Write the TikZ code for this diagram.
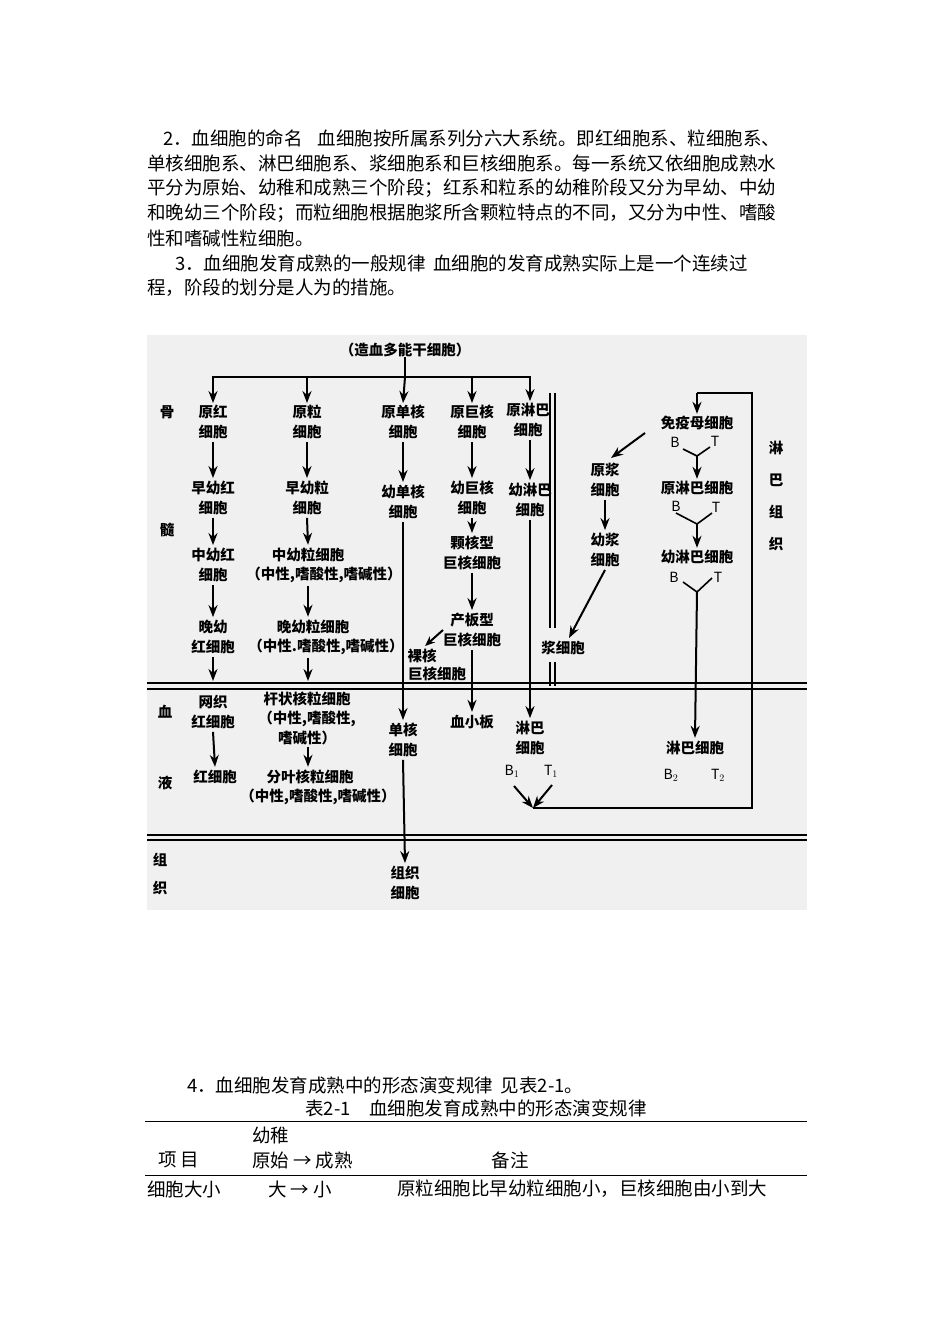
\documentclass[tikz,border=0pt]{standalone}
\usepackage{fontspec}
\setmainfont{Noto Sans CJK SC}
\usetikzlibrary{arrows.meta}
\begin{document}
\begin{tikzpicture}[x=1pt,y=-1pt,
  body/.style={anchor=west,inner sep=0,font=\fontsize{18.5}{22}\selectfont},
  lbl/.style={align=center,inner sep=0,font=\fontsize{14.5}{19.5}\selectfont\bfseries},
  bt/.style={inner sep=0,font=\fontsize{14}{14}\selectfont},
  ln/.style={line width=2pt},
  ar/.style={line width=2pt,-{Stealth[length=12pt,width=9pt]}}]
\useasboundingbox (0,0) rectangle (950,1344);
\fill[white] (0,0) rectangle (950,1344);
\coordinate (xg) at (308,0);
\coordinate (xl) at (530,0);
% page text
\node[body] (t1) at (163,138) {2．血细胞的命名\hspace{0.8em}血细胞按所属系列分六大系统。即红细胞系、粒细胞系、};
\node[body] (t2) at (147,163) {单核细胞系、淋巴细胞系、浆细胞系和巨核细胞系。每一系统又依细胞成熟水};
\node[body] (t3) at (147,188) {平分为原始、幼稚和成熟三个阶段；红系和粒系的幼稚阶段又分为早幼、中幼};
\node[body] (t4) at (147,213) {和晚幼三个阶段；而粒细胞根据胞浆所含颗粒特点的不同，又分为中性、嗜酸};
\node[body] (t5) at (147,238) {性和嗜碱性粒细胞。};
\node[body] (t6) at (175,263) {3．血细胞发育成熟的一般规律\hspace{0.4em}血细胞的发育成熟实际上是一个连续过};
\node[body] (t7) at (147,288) {程，阶段的划分是人为的措施。};
% diagram background
\fill[black!6] (147,335) rectangle (807,910);
% horizontal double lines
\draw[line width=1.8pt] (147,683) -- (807,683) (147,689) -- (807,689);
\draw[line width=1.8pt] (147,835) -- (807,835) (147,840) -- (807,840);
% side labels
\node[lbl] (gu) at (167,412) {骨};
\node[lbl] (sui) at (167,530) {髓};
\node[lbl] (xue) at (165,712) {血};
\node[lbl] (ye) at (165,783) {液};
\node[lbl] (zu) at (160,860) {组};
\node[lbl] (zh) at (160,888) {织};
\node[lbl] (lb1) at (776,448) {淋};
\node[lbl] (lb2) at (776,480) {巴};
\node[lbl] (lb3) at (776,512) {组};
\node[lbl] (lb4) at (776,544) {织};
% title
\node[lbl] (stem) at (405,350) {（造血多能干细胞）};
\coordinate (bar) at (405,377);
\draw[ln] (stem) -- (bar);
\draw[ln] (212,377) -- (531,377);
% row 1
\node[lbl] (r1) at (213,422) {原红\\细胞};
\node[lbl] (g1) at (307,422) {原粒\\细胞};
\node[lbl] (m1) at (403,422) {原单核\\细胞};
\node[lbl] (k1) at (472,422) {原巨核\\细胞};
\node[lbl] (l1) at (528,420) {原淋巴\\细胞};
\draw[ar] (213,377) -- ([yshift=2pt]r1.north);
\draw[ar] (307,377) -- ([yshift=2pt]g1.north);
\draw[ar] (bar) -- ([yshift=2pt]m1.north);
\draw[ar] (472,377) -- ([yshift=2pt]k1.north);
\draw[ar] (530,377) -- ([yshift=2pt]l1.north -| xl);
% row 2
\node[lbl] (r2) at (213,498) {早幼红\\细胞};
\node[lbl] (g2) at (307,498) {早幼粒\\细胞};
\node[lbl] (m2) at (403,502) {幼单核\\细胞};
\node[lbl] (k2) at (472,498) {幼巨核\\细胞};
\node[lbl] (l2) at (530,500) {幼淋巴\\细胞};
\foreach \a/\b in {r1/r2,g1/g2,m1/m2,k1/k2}{\draw[ar] ([yshift=-3pt]\a.south) -- ([yshift=3pt]\b.north);}
\draw[ar] ([yshift=-3pt]l1.south -| xl) -- ([yshift=3pt]l2.north);
% row 3
\node[lbl] (r3) at (213,565) {中幼红\\细胞};
\node[lbl] (g3a) at (308,555) {中幼粒细胞};
\node[lbl] (g3b) at (324,575) {（中性,嗜酸性,嗜碱性）};
\node[lbl] (k3) at (472,553) {颗核型\\巨核细胞};
\draw[ar] ([yshift=-3pt]r2.south) -- ([yshift=3pt]r3.north);
\draw[ar] ([yshift=-3pt]g2.south) -- ([yshift=3pt]g3a.north);
\draw[ar] ([yshift=-3pt]k2.south) -- ([yshift=3pt]k3.north);
% row 4
\node[lbl] (r4) at (213,637) {晚幼\\红细胞};
\node[lbl] (g4a) at (313,627) {晚幼粒细胞};
\node[lbl] (g4b) at (326,647) {（中性.嗜酸性,嗜碱性）};
\node[lbl] (k4) at (472,630) {产板型\\巨核细胞};
\node[lbl] (nk1) at (422,656) {裸核};
\node[lbl] (nk2) at (437,674) {巨核细胞};
\draw[ar] ([yshift=-3pt]r3.south) -- ([yshift=3pt]r4.north);
\draw[ar] ([yshift=-3pt]g3b.south -| xg) -- ([yshift=3pt]g4a.north -| xg);
\draw[ar] ([yshift=-3pt]k3.south) -- ([yshift=3pt]k4.north);
\draw[ln,-{Stealth[length=10pt,width=8pt]}] (443,630) -- (425,646);
\coordinate (rd) at (213,681);
\coordinate (gd) at (308,681);
\draw[ar] ([yshift=-3pt]r4.south) -- (rd);
\draw[ar] ([yshift=-3pt]g4b.south -| xg) -- (gd);
% plasma double vertical line
\draw[line width=1.6pt] (550,393) -- (550,628) (555,393) -- (555,628);
\draw[line width=1.6pt] (550,662) -- (550,686) (555,662) -- (555,686);
\node[lbl] (p4) at (563,648) {浆细胞};
% lymph tissue
\node[lbl] (im) at (697,423) {免疫母细胞};
\node[bt] (imB) at (675,442) {B};
\node[bt] (imT) at (715,441) {T};
\node[lbl] (pl) at (697,488) {原淋巴细胞};
\node[bt] (plB) at (676,506) {B};
\node[bt] (plT) at (716,507) {T};
\node[lbl] (yl) at (697,557) {幼淋巴细胞};
\node[bt] (ylB) at (674,577) {B};
\node[bt] (ylT) at (718,577) {T};
\coordinate (y1) at (697,456);
\coordinate (y2) at (697,524);
\coordinate (y3) at (697,592);
\draw[line width=1.6pt] (683,449) -- (y1) -- (710,447);
\draw[line width=1.6pt] (676,513) -- (y2) -- (712,513);
\draw[line width=1.6pt] (683,582) -- (y3) -- (712,578);
\draw[ar] (y1) -- ([yshift=2pt]pl.north);
\draw[ar] (y2) -- ([yshift=2pt]yl.north);
\node[lbl] (pp) at (605,480) {原浆\\细胞};
\node[lbl] (yp) at (605,550) {幼浆\\细胞};
\draw[ar] (645,433) -- (611,458);
\draw[ar] ([yshift=-3pt]pp.south) -- ([yshift=3pt]yp.north);
\draw[ar] ([yshift=-3pt]yp.south) -- (569,638);
% blood row
\node[lbl] (rb1) at (213,712) {网织\\红细胞};
\node[lbl] (rb2) at (215,777) {红细胞};
\draw[ar] ([yshift=-3pt]rb1.south) -- ([yshift=3pt]rb2.north);
\node[lbl] (gb1) at (307,718) {杆状核粒细胞\\（中性,嗜酸性,\\嗜碱性）};
\node[lbl] (gb2) at (310,777) {分叶核粒细胞};
\node[lbl] (gb3) at (318,797) {（中性,嗜酸性,嗜碱性）};
\draw[ar] ([yshift=-2pt]gb1.south -| xg) -- ([yshift=3pt]gb2.north -| xg);
\node[lbl] (mb) at (403,740) {单核\\细胞};
\node[lbl] (pb) at (472,722) {血小板};
\node[lbl] (lb) at (530,738) {淋巴\\细胞};
\node[lbl] (lb2r) at (695,748) {淋巴细胞};
\draw[ar] ([yshift=-3pt]m2.south) -- ([yshift=3pt]mb.north);
\draw[ar] ([yshift=-3pt]k4.south) -- ([yshift=3pt]pb.north);
\draw[ar] ([yshift=-3pt]l2.south) -- ([yshift=3pt]lb.north);
\draw[ar] (y3) -- ([yshift=3pt]lb2r.north);
\node[bt] (B1) at (512,771) {B$_1$};
\node[bt] (T1) at (551,771) {T$_1$};
\node[bt] (B2) at (671,775) {B$_2$};
\node[bt] (T2) at (718,775) {T$_2$};
\coordinate (cv) at (533,808);
\draw[ar] (514,786) -- (cv);
\draw[ar] (552,785) -- (cv);
\coordinate (fr1) at (752,808);
\coordinate (fr2) at (752,393);
\coordinate (fr3) at (697,393);
\draw[line width=1.6pt] (cv) -- (fr1) -- (fr2) -- (fr3);
\draw[ar] (fr3) -- ([yshift=2pt]im.north);
% tissue
\node[lbl] (tc) at (405,883) {组织\\细胞};
\draw[ar] ([yshift=-3pt]mb.south) -- ([yshift=3pt]tc.north);
% bottom text
\node[body] (b1) at (187,1085) {4．血细胞发育成熟中的形态演变规律\hspace{0.4em}见表2-1。};
\node[inner sep=0,font=\fontsize{18.5}{22}\selectfont] (cap) at (476,1108) {表2-1\hspace{1em}血细胞发育成熟中的形态演变规律};
\draw[line width=0.9pt] (145,1121) -- (807,1121);
\draw[line width=0.9pt] (145,1175) -- (807,1175);
\node[body] (h0) at (252,1135) {幼稚};
\node[body] (h1) at (158,1160) {项 目};
\node[body] (h2) at (252,1160) {原始 → 成熟};
\node[inner sep=0,font=\fontsize{18.5}{22}\selectfont] (h3) at (510,1160) {备注};
\node[body] (c1) at (147,1189) {细胞大小};
\node[body] (c2) at (268,1189) {大 → 小};
\node[body] (c3) at (397,1189) {原粒细胞比早幼粒细胞小，巨核细胞由小到大};
\end{tikzpicture}
\end{document}
